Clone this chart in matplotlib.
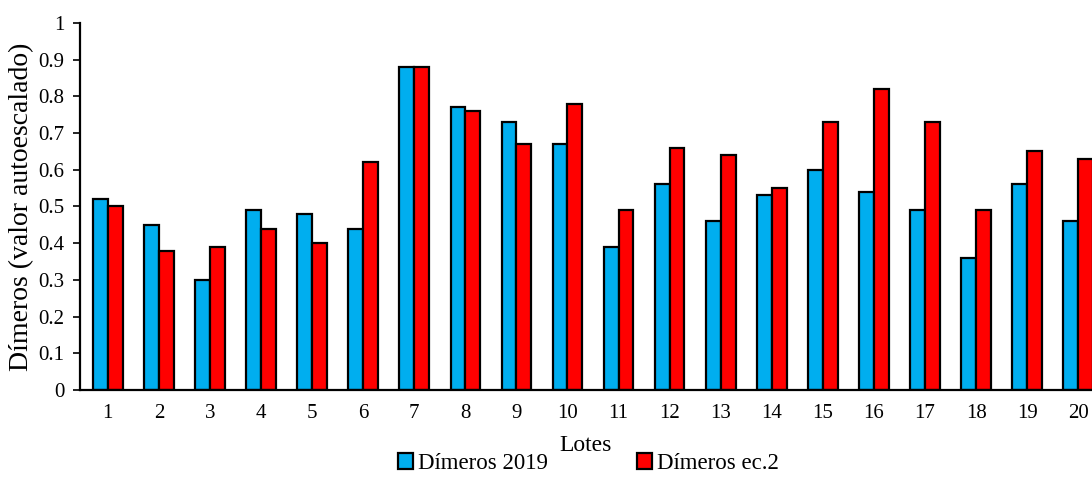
import numpy as np
import matplotlib.pyplot as plt
from matplotlib.ticker import FuncFormatter

plt.rcParams['font.family'] = ['Liberation Serif', 'DejaVu Serif']

# datos
lotes = [str(i) for i in range(1, 21)]
dimeros_2019 = [0.52, 0.45, 0.30, 0.49, 0.48, 0.44, 0.88, 0.77, 0.73, 0.67,
                0.39, 0.56, 0.46, 0.53, 0.60, 0.54, 0.49, 0.36, 0.56, 0.46]
dimeros_ec2 = [0.50, 0.38, 0.39, 0.44, 0.40, 0.62, 0.88, 0.76, 0.67, 0.78,
               0.49, 0.66, 0.64, 0.55, 0.73, 0.82, 0.73, 0.49, 0.65, 0.63]

x = np.arange(1, len(lotes) + 1)
w = 0.29

fig = plt.figure(figsize=(10.92, 4.78), dpi=100)
ax = fig.add_axes([0.073, 0.184, 0.927, 0.768])

ax.bar(x - w / 2, dimeros_2019, w, color='#00AEEF', edgecolor='black',
       linewidth=1.6, label='Dímeros 2019')
ax.bar(x + w / 2, dimeros_ec2, w, color='#FF0000', edgecolor='black',
       linewidth=1.6, label='Dímeros ec.2')

ax.set_xlim(0.45, 20.27)
ax.set_ylim(0, 1)
ax.set_yticks(np.arange(0, 1.01, 0.1))
ax.yaxis.set_major_formatter(FuncFormatter(lambda v, p: f'{v:.1f}'.rstrip('0').rstrip('.') if v else '0'))
ax.set_xticks(x)
ax.set_xticklabels(lotes)
ax.tick_params(axis='x', length=0, labelsize=15, pad=10)
ax.tick_params(axis='y', length=5, width=1.2, labelsize=15, direction='out', pad=6)

for s in ['top', 'right']:
    ax.spines[s].set_visible(False)
ax.spines['left'].set_linewidth(1.6)
ax.spines['bottom'].set_linewidth(1.6)

ax.set_ylabel('Dímeros (valor autoescalado)', fontsize=20, labelpad=3)
ax.set_xlabel('Lotes', fontsize=17, labelpad=9)

fig.legend(loc='lower center', bbox_to_anchor=(0.539, -0.035), ncol=2,
           frameon=False, fontsize=16.5, handlelength=0.65, handleheight=0.65,
           handletextpad=0.2, columnspacing=3.9)

fig.savefig('out.png', dpi=100)
